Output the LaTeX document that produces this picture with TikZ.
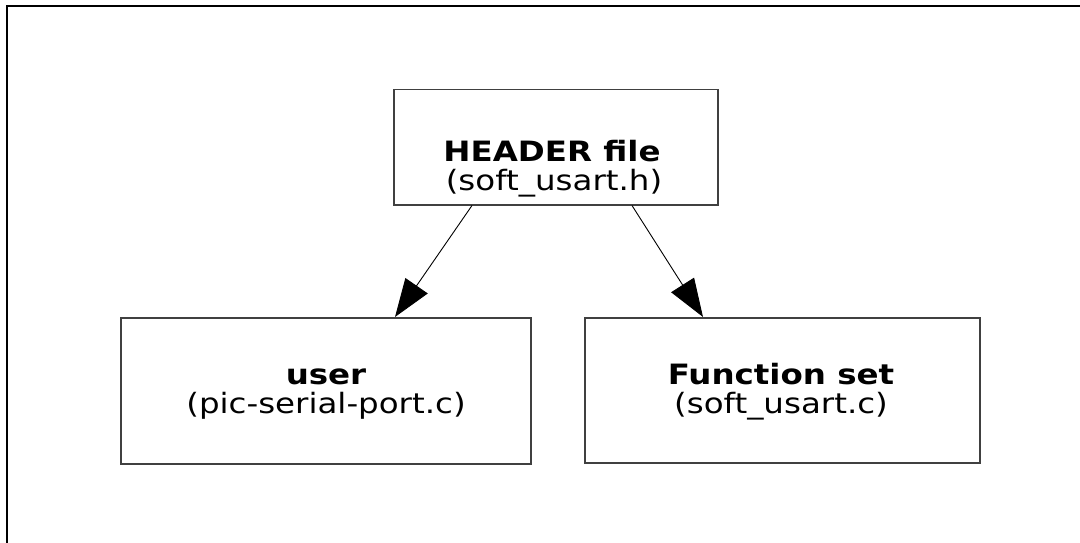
\documentclass[tikz,border=0pt]{standalone}
\usepackage{fontspec}
\newfontfamily\dv[FakeStretch=1.16]{DejaVu Sans}
\usetikzlibrary{arrows.meta}
\begin{document}
\begin{tikzpicture}[x=1pt,y=-1pt,
  box/.style={draw=black!75,line width=1.5pt,rectangle,inner sep=0pt,anchor=north west},
  lbl/.style={anchor=base,inner sep=0pt,font=\dv\fontsize{28}{30}\selectfont,text=black},
  conn/.style={draw=black,line width=0.9pt,-{Triangle[length=38pt,width=27pt]}}]
\useasboundingbox (0,0) rectangle (1080,543);
\draw[line width=2pt,black] (7,543) -- (7,6) -- (1080,6);
\node[box,minimum width=324pt,minimum height=115pt] (header) at (393,89) {};
\node[box,minimum width=410pt,minimum height=146pt] (user) at (120,317) {};
\node[box,minimum width=395pt,minimum height=145pt] (func) at (584,317) {};
\node[lbl] (h1) at (552,161) {\bfseries HEADER file};
\node[lbl] (h2) at (554,190) {(soft\_usart.h)};
\node[lbl] (u1) at (326,384) {\bfseries user};
\node[lbl] (u2) at (326,413) {(pic-serial-port.c)};
\node[lbl] (f1) at (781,384) {\bfseries Function set};
\node[lbl] (f2) at (781,413) {(soft\_usart.c)};
\draw[conn] ([xshift=79pt]header.south west) -- ([xshift=275pt]user.north west);
\draw[conn] ([xshift=239pt]header.south west) -- ([xshift=119pt]func.north west);
\end{tikzpicture}
\end{document}
